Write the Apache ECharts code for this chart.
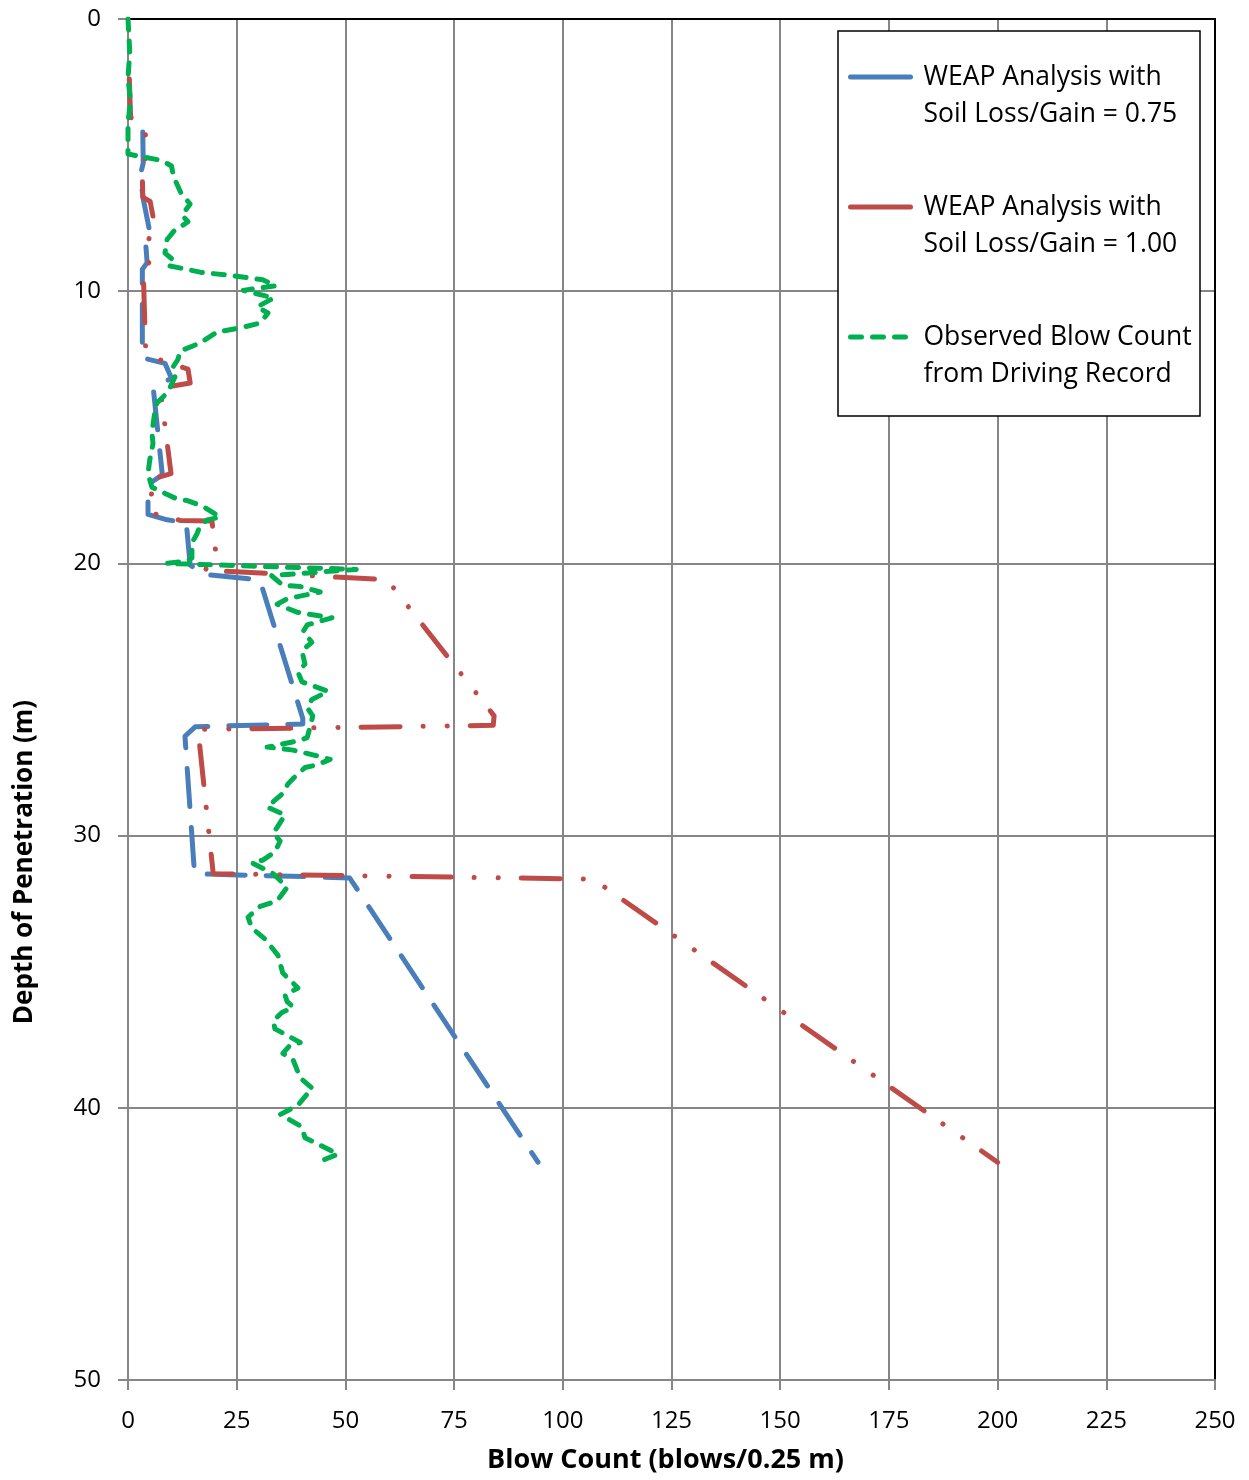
<!DOCTYPE html>
<html>
<head>
<meta charset="utf-8">
<script src="https://cdn.jsdelivr.net/npm/echarts@6/dist/echarts.min.js"></script>
<style>
html,body{margin:0;padding:0;background:#fff;}
#chart{width:1249px;height:1480px;}
</style>
</head>
<body>
<div id="chart"></div>
<script>
// Tick values
const xTicks = [0, 25, 50, 75, 100, 125, 150, 175, 200, 225, 250];
const yTicks = [0, 10, 20, 30, 40, 50];

// Series names
const seriesNames = [
  'WEAP Analysis with\nSoil Loss/Gain = 0.75',
  'WEAP Analysis with\nSoil Loss/Gain = 1.00',
  'Observed Blow Count\nfrom Driving Record'
];

// [blow count, depth (m)]
const weap075 = [
  [3.4,4.15],[3.5,5.3],[2.8,5.75],[3.5,6.6],[5.1,7.9],[4.0,8.1],[4.4,8.95],[3.3,9.2],
  [3.3,12.45],[8.5,12.65],[10.0,13.2],[5.8,13.55],[7.9,16.75],[4.6,17.1],[4.6,18.2],
  [9.0,18.4],[13.4,18.5],[14.3,20.06],[17.2,20.4],[30.3,20.6],[40.2,25.7],[40.2,25.9],
  [15.5,26.0],[13.1,26.35],[15.3,31.4],[25.3,31.45],[41.0,31.5],[51.0,31.56],[94.3,42.0]
];

const weap100 = [
  [0.3,2.2],[0.6,3.6],[4.0,4.15],[4.1,5.0],[3.3,5.8],[3.4,6.55],[5.1,6.7],[5.8,7.3],
  [4.8,8.1],[4.8,8.95],[3.5,9.2],[3.9,11.4],[4.1,12.3],[8.5,12.6],[13.8,12.86],[14.3,13.37],
  [7.4,13.56],[9.9,16.7],[5.5,16.9],[5.3,18.15],[12.0,18.42],[19.3,18.44],[20.2,19.6],
  [20.4,19.75],[17.7,20.25],[59.6,20.6],[84.2,25.6],[84.0,25.95],[16.1,26.1],[19.6,31.4],
  [107.0,31.6],[200.0,42.0]
];

const observed = [
  [0,0],[0.4,1.2],[0,2.2],[0.6,3.0],[0,3.8],[0,4.96],[7.8,5.2],[10,5.4],[10.5,5.8],
  [12.2,6.4],[14.3,6.8],[12.4,7.2],[13.8,7.45],[10.5,7.8],[9,8.1],[8.5,8.6],[10,8.8],
  [9,9.05],[16.6,9.3],[25,9.45],[31,9.58],[34,9.8],[26.5,9.97],[33.5,10.25],[29.7,10.58],
  [32.2,10.8],[30.4,11.17],[25.8,11.35],[20.5,11.5],[16.6,11.9],[12,12.2],[11.5,12.5],
  [10.3,12.8],[10.8,13.15],[9.2,13.7],[6.7,14.1],[6.2,14.4],[5.5,15.2],[5.75,15.6],[5,16.2],
  [4.6,16.7],[5.5,17.2],[10.8,17.6],[13.8,17.7],[17.2,17.9],[21.2,18.3],[18.2,18.4],
  [16.6,18.6],[15.9,18.9],[14.7,19.25],[14.7,19.8],[13.8,19.9],[9,20.0],[52.5,20.22],
  [33,20.45],[35.6,20.8],[39.6,20.85],[44.2,21.05],[36.6,21.3],[34.3,21.5],[39,21.8],
  [46.9,22.0],[41.2,22.26],[40.3,22.5],[42.3,22.9],[40,23.2],[40.7,23.7],[39.1,24.0],
  [40,24.35],[46,24.7],[42.3,25.0],[41.2,25.3],[42.5,25.6],[41.9,26.0],[41.2,26.4],
  [39.6,26.5],[32,26.75],[38,26.86],[44.2,27.1],[46.5,27.2],[43.5,27.4],[40.7,27.5],
  [38,27.9],[36.8,28.1],[35.6,28.45],[33.8,28.7],[32,28.95],[36.1,29.24],[34.3,29.7],
  [33.4,29.9],[35,30.2],[33.8,30.6],[31,30.9],[28.5,31.0],[33.4,31.4],[36.6,31.9],
  [34.3,32.4],[30.4,32.6],[27.6,33.0],[28.5,33.4],[31.5,33.8],[34.5,34.4],[35.6,35.05],
  [39.1,35.6],[36.1,35.85],[36.6,36.1],[38,36.3],[35.4,36.5],[33.4,36.8],[33.8,37.1],
  [39.6,37.6],[37.3,37.7],[35.6,38.0],[38,38.25],[39.6,38.9],[42.5,39.3],[41.2,39.5],
  [39.1,39.9],[35,40.25],[37.3,40.45],[40,40.7],[40.7,41.1],[48.3,41.7],[43.7,42.0]
];

const FONT = '"Open Sans", sans-serif';
const GRIDC = '#868686';
const COLORS = ['#4A7EBB', '#BE4B48', '#00B050'];

const chart = echarts.init(document.getElementById('chart'), null, {renderer: 'canvas'});
chart.setOption({
  animation: false,
  backgroundColor: '#fff',
  textStyle: {fontFamily: FONT},
  grid: {left: 128, right: 34, top: 19, bottom: 100, containLabel: false},
  xAxis: [{
    type: 'value', min: xTicks[0], max: xTicks[xTicks.length - 1], interval: 25,
    position: 'bottom',
    name: 'Blow Count (blows/0.25 m)', nameLocation: 'middle', nameGap: 67,
    nameTextStyle: {fontFamily: FONT, fontSize: 27, fontWeight: 'bold', color: '#000', padding: [0, 12, 0, 0]},
    axisLine: {show: true, onZero: false, lineStyle: {color: GRIDC, width: 2}},
    axisTick: {show: true, inside: false, length: 10, lineStyle: {color: GRIDC, width: 2}},
    axisLabel: {fontFamily: FONT, fontSize: 24, color: '#000', margin: 29},
    splitLine: {show: true, lineStyle: {color: GRIDC, width: 2}}
  }, {
    type: 'value', min: xTicks[0], max: xTicks[xTicks.length - 1], interval: 25,
    position: 'top',
    axisLine: {show: true, onZero: false, lineStyle: {color: '#000', width: 2}},
    axisTick: {show: false}, axisLabel: {show: false}, splitLine: {show: false}
  }],
  yAxis: [{
    type: 'value', inverse: true, min: yTicks[0], max: yTicks[yTicks.length - 1], interval: 10,
    position: 'left',
    name: 'Depth of Penetration (m)', nameLocation: 'middle', nameGap: 90, nameRotate: 90,
    nameTextStyle: {fontFamily: FONT, fontSize: 26, fontWeight: 'bold', color: '#000', padding: [0, 325, 0, 0]},
    axisLine: {show: true, onZero: false, lineStyle: {color: GRIDC, width: 2}},
    axisTick: {show: true, inside: false, length: 10, lineStyle: {color: GRIDC, width: 2}},
    axisLabel: {fontFamily: FONT, fontSize: 24, color: '#000', margin: 27},
    splitLine: {show: true, lineStyle: {color: GRIDC, width: 2}}
  }, {
    type: 'value', inverse: true, min: yTicks[0], max: yTicks[yTicks.length - 1], interval: 10,
    position: 'right',
    axisLine: {show: true, onZero: false, lineStyle: {color: '#000', width: 2}},
    axisTick: {show: false}, axisLabel: {show: false}, splitLine: {show: false}
  }],
  legend: {
    orient: 'vertical', left: 848, top: 21.5, padding: 0,
    itemWidth: 60, itemHeight: 14, itemGap: 19,
    formatter: function (name) { return ' \n' + name; },
    textStyle: {fontFamily: FONT, fontSize: 26.5, color: '#000', lineHeight: 37, padding: [0, 0, 0, 8]},
    data: [
      {name: seriesNames[0], itemStyle: {opacity: 0},
       lineStyle: {type: 'solid', width: 5, color: COLORS[0], cap: 'round'}},
      {name: seriesNames[1], itemStyle: {opacity: 0},
       lineStyle: {type: 'solid', width: 5, color: COLORS[1], cap: 'round'}},
      {name: seriesNames[2], itemStyle: {opacity: 0},
       lineStyle: {type: [11, 11], width: 5, color: COLORS[2], cap: 'round'}}
    ]
  },
  graphic: [{
    type: 'rect', z: 3,
    shape: {x: 838, y: 31, width: 362, height: 385},
    style: {fill: '#fff', stroke: '#000', lineWidth: 1.5}
  }],
  series: [{
    name: seriesNames[0], type: 'line', data: weap075, showSymbol: false, symbol: 'none',
    xAxisIndex: 0, yAxisIndex: 0,
    itemStyle: {color: COLORS[0]},
    lineStyle: {color: COLORS[0], width: 5, type: [38, 21], cap: 'round', join: 'round'}
  }, {
    name: seriesNames[1], type: 'line', data: weap100, showSymbol: false, symbol: 'none',
    xAxisIndex: 0, yAxisIndex: 0,
    itemStyle: {color: COLORS[1]},
    lineStyle: {color: COLORS[1], width: 5, type: [39, 23, 0.1, 24, 0.1, 23], cap: 'round', join: 'round'}
  }, {
    name: seriesNames[2], type: 'line', data: observed, showSymbol: false, symbol: 'none',
    xAxisIndex: 0, yAxisIndex: 0,
    itemStyle: {color: COLORS[2]},
    lineStyle: {color: COLORS[2], width: 5, type: [11, 11], cap: 'round', join: 'round'}
  }]
});
</script>
</body>
</html>
